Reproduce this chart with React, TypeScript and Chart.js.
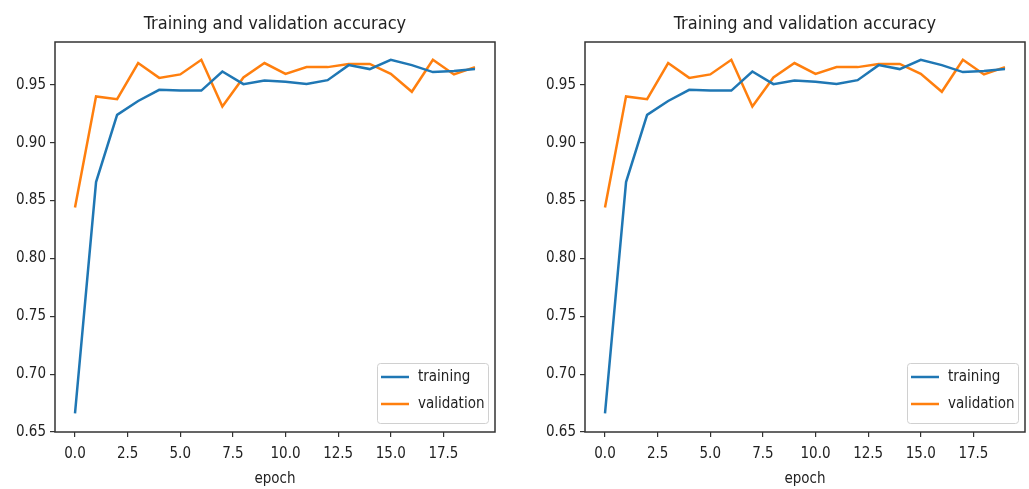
import React, { useEffect, useRef } from "react";
import { Chart, registerables } from "chart.js";

Chart.register(...registerables);

const epochs = [0, 1, 2, 3, 4, 5, 6, 7, 8, 9, 10, 11, 12, 13, 14, 15, 16, 17, 18, 19];
const training = [0.666, 0.866, 0.924, 0.936, 0.9457, 0.945, 0.945, 0.9615, 0.9506, 0.9537, 0.9526, 0.9508, 0.954, 0.967, 0.9636, 0.9716, 0.967, 0.961, 0.962, 0.9636];
const validation = [0.844, 0.940, 0.9376, 0.9688, 0.956, 0.959, 0.9716, 0.9312, 0.9563, 0.9688, 0.9595, 0.9653, 0.9653, 0.968, 0.968, 0.9595, 0.944, 0.9716, 0.959, 0.9653];
const yTicks = [0.65, 0.7, 0.75, 0.8, 0.85, 0.9, 0.95];
const xTicks = [0, 2.5, 5, 7.5, 10, 12.5, 15, 17.5];
const titleText = "Training and validation accuracy";
const xLabel = "epoch";
const seriesLabels = ["training", "validation"];
const colors = ["#1f77b4", "#ff7f0e"];

const FONT = "'DejaVu Sans Condensed', 'Liberation Sans Narrow', 'DejaVu Sans', sans-serif";

const boxLegendPlugin = {
  id: "boxLegend",
  afterDraw(chart: any) {
    const { ctx, chartArea } = chart;
    ctx.save();
    // axes frame
    ctx.strokeStyle = "#333";
    ctx.lineWidth = 1.5;
    ctx.strokeRect(chartArea.left, chartArea.top, chartArea.right - chartArea.left, chartArea.bottom - chartArea.top);
    // legend
    const w = 111, h = 60;
    const x = chartArea.right - 7 - w;
    const y = chartArea.bottom - 9 - h;
    ctx.fillStyle = "rgba(255,255,255,0.85)";
    ctx.strokeStyle = "#d0d0d0";
    ctx.lineWidth = 1;
    ctx.beginPath();
    (ctx as any).roundRect(x + 0.5, y + 0.5, w, h, 3);
    ctx.fill();
    ctx.stroke();
    ctx.font = `15px ${FONT}`;
    ctx.textBaseline = "middle";
    ctx.textAlign = "left";
    chart.data.datasets.forEach((ds: any, i: number) => {
      const ly = y + 14 + i * 27;
      ctx.strokeStyle = ds.borderColor;
      ctx.lineWidth = 2.5;
      ctx.beginPath();
      ctx.moveTo(x + 4, ly);
      ctx.lineTo(x + 32, ly);
      ctx.stroke();
      ctx.fillStyle = "#222";
      ctx.fillText(ds.label, x + 41, ly);
    });
    ctx.restore();
  },
};

function AccChart({ yAxisWidth, padRight }: { yAxisWidth: number; padRight: number }) {
  const ref = useRef<HTMLCanvasElement>(null);
  useEffect(() => {
    if (!ref.current) return;
    const chart = new Chart(ref.current, {
      type: "line",
      data: {
        datasets: [
          {
            label: seriesLabels[0],
            data: epochs.map((e, i) => ({ x: e, y: training[i] })),
            borderColor: colors[0],
            backgroundColor: colors[0],
            borderWidth: 2.5,
            pointRadius: 0,
            tension: 0,
          },
          {
            label: seriesLabels[1],
            data: epochs.map((e, i) => ({ x: e, y: validation[i] })),
            borderColor: colors[1],
            backgroundColor: colors[1],
            borderWidth: 2.5,
            pointRadius: 0,
            tension: 0,
          },
        ],
      },
      options: {
        responsive: false,
        animation: false,
        layout: { padding: { left: 0, right: padRight, top: 0, bottom: 0 } },
        plugins: {
          legend: { display: false },
          tooltip: { enabled: false },
          title: {
            display: true,
            text: titleText,
            fullSize: false,
            color: "#222",
            font: { family: FONT, size: 18, weight: "normal" },
            padding: { top: 14, bottom: 6.4 },
          },
        },
        scales: {
          x: {
            type: "linear",
            min: -0.95,
            max: 19.95,
            afterBuildTicks: (s: any) => {
              s.ticks = xTicks.map((v) => ({ value: v }));
            },
            afterFit: (s: any) => {
              s.height = 57;
            },
            ticks: {
              color: "#222",
              font: { family: FONT, size: 15 },
              padding: 8,
              maxRotation: 0,
              autoSkip: false,
              callback: (v: any) => Number(v).toFixed(1),
            },
            grid: { drawOnChartArea: false, drawTicks: true, tickLength: 5, color: "#333", lineWidth: 1.2 },
            border: { display: false },
            title: {
              display: true,
              text: xLabel,
              color: "#222",
              font: { family: FONT, size: 15 },
              padding: { top: 0, bottom: 1 },
            },
          },
          y: {
            type: "linear",
            min: 0.65,
            max: 0.987,
            afterBuildTicks: (s: any) => {
              s.ticks = yTicks.map((v) => ({ value: v }));
            },
            afterFit: (s: any) => {
              s.width = yAxisWidth;
            },
            ticks: {
              color: "#222",
              font: { family: FONT, size: 15 },
              padding: 4,
              autoSkip: false,
              callback: (v: any) => Number(v).toFixed(2),
            },
            grid: { drawOnChartArea: false, drawTicks: true, tickLength: 5, color: "#333", lineWidth: 1.2 },
            border: { display: false },
          },
        },
      } as any,
      plugins: [boxLegendPlugin],
    });
    return () => chart.destroy();
  }, []);
  return <canvas ref={ref} width={yAxisWidth === 55 ? 514 : 515} height={489} />;
}

export default function App() {
  return (
    <div style={{ position: "absolute", left: 0, top: 0, width: 1029, height: 489, background: "#fff" }}>
      <div style={{ position: "absolute", left: 0, top: 0 }}>
        <AccChart yAxisWidth={55} padRight={19} />
      </div>
      <div style={{ position: "absolute", left: 514, top: 0 }}>
        <AccChart yAxisWidth={71} padRight={4} />
      </div>
    </div>
  );
}
